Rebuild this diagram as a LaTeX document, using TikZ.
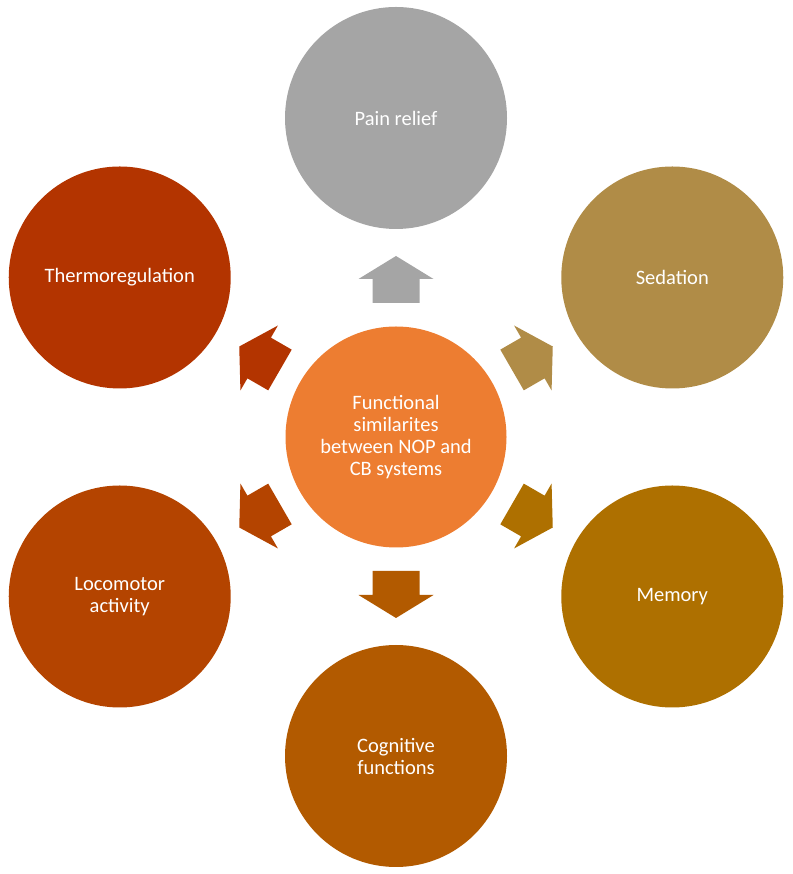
\documentclass[tikz,border=0pt]{standalone}
\usepackage{fontspec}
\setmainfont{Carlito}
\usetikzlibrary{calc}
\definecolor{cgray}{HTML}{A5A5A5}
\definecolor{csed}{HTML}{B08C47}
\definecolor{cmem}{HTML}{AE7000}
\definecolor{ccog}{HTML}{B25A00}
\definecolor{cloc}{HTML}{B44400}
\definecolor{cthe}{HTML}{B33400}
\definecolor{ccen}{HTML}{ED7D31}
\tikzset{
  bubble/.style={circle, minimum size=222pt, inner sep=0pt, text=white, align=center,
    font=\fontsize{20.5}{22}\selectfont},
  hub/.style={circle, minimum size=221pt, inner sep=0pt, text=white, align=center, fill=ccen,
    font=\fontsize{20.5}{22}\selectfont},
  blockarrow/.style={draw=none}
}
\newcommand{\blockarrowat}[2]{%
  \begin{scope}[shift={(c)}, rotate=#1]
    \fill[#2] (134,-23.5) -- (158,-23.5) -- (158,-37.5) -- (181,0) -- (158,37.5) -- (158,23.5) -- (134,23.5) -- cycle;
  \end{scope}}
\begin{document}
\begin{tikzpicture}[x=1pt,y=1pt]
\useasboundingbox (0,0) rectangle (792,874);
\coordinate (c) at (396,437);
\node[hub] (hub) at (c) {Functional\\similarites\\between NOP and\\CB systems};
\node[bubble, fill=cgray] (pain) at ($(c)+(90:319)$) {Pain relief};
\node[bubble, fill=csed] (sed) at ($(c)+(30:319)$) {Sedation};
\node[bubble, fill=cmem] (mem) at ($(c)+(-30:319)$) {Memory};
\node[bubble, fill=ccog] (cog) at ($(c)+(-90:319)$) {Cognitive\\functions};
\node[bubble, fill=cloc] (loc) at ($(c)+(-150:319)$) {Locomotor\\activity};
\node[bubble, fill=cthe] (the) at ($(c)+(150:319)$) {Thermoregulation};
\blockarrowat{90}{cgray}
\blockarrowat{30}{csed}
\blockarrowat{-30}{cmem}
\blockarrowat{-90}{ccog}
\blockarrowat{-150}{cloc}
\blockarrowat{150}{cthe}
\end{tikzpicture}
\end{document}
